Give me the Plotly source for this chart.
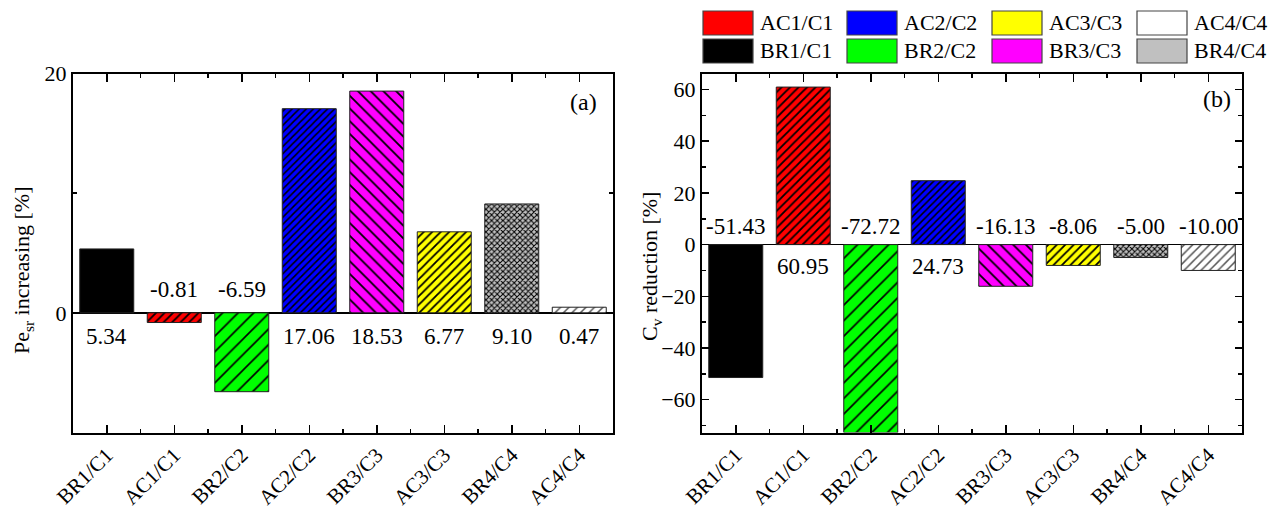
import plotly.graph_objects as go

W, H = 1280, 520

categories = ["BR1/C1", "AC1/C1", "BR2/C2", "AC2/C2", "BR3/C3", "AC3/C3", "BR4/C4", "AC4/C4"]
pe_increase = [5.34, -0.81, -6.59, 17.06, 18.53, 6.77, 9.10, 0.47]
cv_reduction = [-51.43, 60.95, -72.72, 24.73, -16.13, -8.06, -5.00, -10.00]
pe_labels = ["5.34", "-0.81", "-6.59", "17.06", "18.53", "6.77", "9.10", "0.47"]
cv_labels = ["-51.43", "60.95", "-72.72", "24.73", "-16.13", "-8.06", "-5.00", "-10.00"]

bar_colors = ["#000000", "#ff0000", "#00ff00", "#0000ff", "#ff00ff", "#ffff00", "#c0c0c0", "#ffffff"]
pattern_shapes = ["", "/", "/", "/", "\\", "/", "x", "/"]
pattern_sizes = [6, 6, 11, 5, 9, 6, 4, 6]
pattern_fg = ["#000000", "#000000", "#000000", "#000000", "#000000", "#000000", "#000000", "#555555"]
pattern_solid = [0.3, 0.3, 0.15, 0.3, 0.2, 0.3, 0.45, 0.25]

legend_order = ["AC1/C1", "AC2/C2", "AC3/C3", "AC4/C4", "BR1/C1", "BR2/C2", "BR3/C3", "BR4/C4"]

FONT = "Liberation Serif"

xs = list(range(len(categories)))

fig = go.Figure()

def add_bars(values, xa, ya):
    for i, v in enumerate(values):
        pat = dict(shape=pattern_shapes[i], size=pattern_sizes[i],
                   fgcolor=pattern_fg[i], bgcolor=bar_colors[i],
                   solidity=pattern_solid[i], fillmode="replace")
        fig.add_trace(go.Bar(
            x=[xs[i]], y=[v], width=0.8,
            marker=dict(color=bar_colors[i],
                        line=dict(color="#222222", width=1),
                        pattern=pat),
            xaxis=xa, yaxis=ya, showlegend=False, hoverinfo="skip",
        ))

add_bars(pe_increase, "x", "y")
add_bars(cv_reduction, "x2", "y2")

ydom = [1 - 432.5 / H, 1 - 73.5 / H]

xcommon = dict(
    range=[-0.5, len(categories) - 0.5],
    tickmode="array", tickvals=xs, ticktext=categories,
    tickangle=-45,
    ticks="inside", ticklen=8, tickwidth=1.5, tickcolor="black",
    minor=dict(tickmode="array", tickvals=[i + 0.5 for i in xs[:-1]],
               ticks="inside", ticklen=4, tickwidth=1.5, tickcolor="black"),
    showline=True, linecolor="black", linewidth=2, mirror="allticks",
    showgrid=False, zeroline=False, automargin=False,
    tickfont=dict(family=FONT, size=21, color="black"),
    fixedrange=True,
)
ycommon = dict(
    ticks="inside", ticklen=7, tickwidth=1.5, tickcolor="black",
    showline=True, linecolor="black", linewidth=2, mirror="allticks",
    showgrid=False, zeroline=True, zerolinecolor="black", zerolinewidth=1.5,
    automargin=False,
    tickfont=dict(family=FONT, size=22, color="black"),
    fixedrange=True,
)

fig.update_layout(
    width=W, height=H,
    margin=dict(l=0, r=0, t=0, b=0, pad=0),
    paper_bgcolor="white", plot_bgcolor="white",
    barmode="overlay",
    font=dict(family=FONT, color="black"),
    xaxis=dict(domain=[73 / W, 613 / W], anchor="y", **xcommon),
    yaxis=dict(domain=ydom, anchor="x", range=[-10, 20], tick0=0, dtick=20,
               minor=dict(dtick=10, ticks="inside", ticklen=4, tickwidth=1.5, tickcolor="black"),
               **ycommon),
    xaxis2=dict(domain=[702 / W, 1242 / W], anchor="y2", **xcommon),
    yaxis2=dict(domain=ydom, anchor="x2", range=[-72.7, 66.2], tick0=0, dtick=20,
                minor=dict(dtick=10, ticks="inside", ticklen=4, tickwidth=1.5, tickcolor="black"),
                **ycommon),
    showlegend=False,
)

ann = []
# value labels (placed on the opposite side of zero)
for xv, v, t in zip(xs, pe_increase, pe_labels):
    ann.append(dict(x=xv, y=0, xref="x", yref="y", text=t, showarrow=False,
                    xanchor="center",
                    yanchor="top" if v >= 0 else "bottom",
                    yshift=-9 if v >= 0 else 9,
                    font=dict(family=FONT, size=23, color="black")))
for xv, v, t in zip(xs, cv_reduction, cv_labels):
    ann.append(dict(x=xv, y=0, xref="x2", yref="y2", text=t, showarrow=False,
                    xanchor="center",
                    yanchor="top" if v >= 0 else "bottom",
                    yshift=-7 if v >= 0 else 4,
                    font=dict(family=FONT, size=23, color="black")))

# panel letters
ann.append(dict(x=583 / W, y=1 - 102 / H, xref="paper", yref="paper", text="(a)",
                xanchor="center", yanchor="middle",
                showarrow=False, font=dict(family=FONT, size=24, color="black")))
ann.append(dict(x=1217 / W, y=1 - 99 / H, xref="paper", yref="paper", text="(b)",
                xanchor="center", yanchor="middle",
                showarrow=False, font=dict(family=FONT, size=24, color="black")))

# axis titles
ann.append(dict(x=23 / W, y=1 - 270 / H, xref="paper", yref="paper",
                text="Pe<sub>sr</sub> increasing [%]", textangle=-90, showarrow=False,
                xanchor="center", yanchor="middle",
                font=dict(family=FONT, size=22, color="black")))
ann.append(dict(x=651 / W, y=1 - 267 / H, xref="paper", yref="paper",
                text="C<sub>v</sub> reduction [%]", textangle=-90, showarrow=False,
                xanchor="center", yanchor="middle",
                font=dict(family=FONT, size=22, color="black")))

# legend (two rows x four columns), built from the series lists
shapes = []
col_x = [703, 847, 992, 1137]
row_y = [(11, 35), (39, 63)]
for i, name in enumerate(legend_order):
    r, c = divmod(i, 4)
    idx = categories.index(name)
    x0 = col_x[c]
    y0, y1 = row_y[r]
    shapes.append(dict(type="rect", xref="paper", yref="paper",
                       x0=x0 / W, x1=(x0 + 50) / W, y0=1 - y1 / H, y1=1 - y0 / H,
                       fillcolor=bar_colors[idx], line=dict(color="#444444", width=1.2)))
    ann.append(dict(x=(x0 + 55) / W, y=1 - (y0 + y1) / 2 / H, xref="paper", yref="paper",
                    text=name, showarrow=False, xanchor="left", yanchor="middle",
                    font=dict(family=FONT, size=22, color="black")))

fig.update_layout(annotations=ann, shapes=shapes)

fig.write_html("out.html", config={"displayModeBar": False, "staticPlot": True},
               post_script="document.body.style.margin='0px';")
